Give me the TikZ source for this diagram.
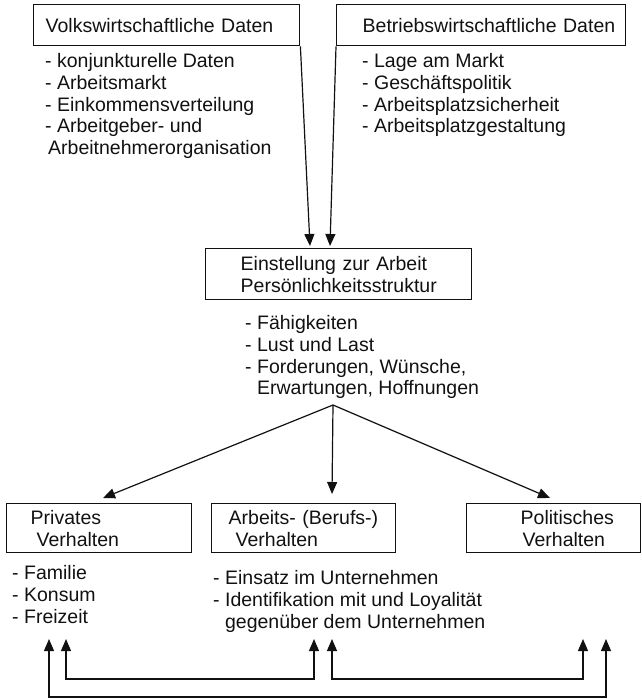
\documentclass[tikz,border=0pt]{standalone}
\usepackage{fontspec}
\setmainfont{Liberation Sans}
\usepackage{tikz}
\usetikzlibrary{arrows.meta,positioning,calc}
\definecolor{ink}{HTML}{111111}
\newcommand{\fs}{\fontsize{19.5pt}{21.7pt}\selectfont}
\tikzset{
  box/.style={draw=ink,line width=1.4pt,anchor=north west,align=left,font=\fs,text=ink,inner xsep=0pt,inner ysep=0pt},
  lpad/.style={execute at begin node={\leftskip=#1\relax}},
  items/.style={anchor=north west,align=left,font=\fs,text=ink,inner sep=0pt},
  flow/.style={-{Triangle[length=12pt,width=10pt]},line width=1.2pt,draw=ink},
  dflow/.style={{Triangle[length=12pt,width=10pt]}-{Triangle[length=12pt,width=10pt]},line width=1.2pt,draw=ink}
}
\begin{document}
\begin{tikzpicture}[x=1pt,y=-1pt]
  \useasboundingbox (0,0) rectangle (642,699);
  % Daten
  \node[box,text width=266pt,minimum height=41pt,lpad=12pt] (vw) at (33,4) {Volkswirtschaftliche Daten};
  \node[box,text width=289pt,minimum height=41pt,lpad=26pt] (bw) at (336,4) {Betriebswirtschaftliche Daten};
  \node[items,below right=7pt and 12pt of vw.south west] (vwl) {- konjunkturelle Daten\\- Arbeitsmarkt\\- Einkommensverteilung\\- Arbeitgeber- und\\\hspace*{3pt}Arbeitnehmerorganisation};
  \node[items,below right=7pt and 26pt of bw.south west] (bwl) {- Lage am Markt\\- Geschäftspolitik\\- Arbeitsplatzsicherheit\\- Arbeitsplatzgestaltung};
  % Einstellung
  \node[box,text width=266pt,minimum height=51pt,lpad=35pt] (ein) at (205,248) {Einstellung zur Arbeit\\Persönlichkeitsstruktur};
  \node[items,below right=15pt and 40pt of ein.south west] (einl) {- Fähigkeiten\\- Lust und Last\\- Forderungen, Wünsche,\\\phantom{- }Erwartungen, Hoffnungen};
  % Verhalten
  \node[box,text width=185pt,minimum height=49pt,lpad=24pt] (priv) at (6,503) {Privates\\\hspace*{6pt}Verhalten};
  \node[box,text width=184pt,minimum height=49pt,lpad=17pt] (arb) at (211,503) {Arbeits- (Berufs-)\\\hspace*{7pt}Verhalten};
  \node[box,text width=174pt,minimum height=49pt,lpad=54pt] (pol) at (466,503) {Politisches\\\hspace*{2pt}Verhalten};
  \node[items,below right=12pt and 6pt of priv.south west] (privl) {- Familie\\- Konsum\\- Freizeit};
  \node[items,below right=17pt and 2pt of arb.south west] (arbl) {- Einsatz im Unternehmen\\- Identifikation mit und Loyalität\\\phantom{- }gegenüber dem Unternehmen};
  % Pfeile
  \coordinate (vwin) at (310,246);
  \coordinate (bwin) at (330,246);
  \draw[flow] (vw.south east) -- (vwin);
  \draw[flow] (bw.south west) -- (bwin);
  \coordinate (apex) at (333,405);
  \coordinate (toPriv) at (103,498);
  \coordinate (toArb) at (332,494);
  \coordinate (toPol) at (550,498);
  \draw[flow] (apex) -- (toPriv);
  \draw[flow] (apex) -- (toArb);
  \draw[flow] (apex) -- (toPol);
  \coordinate (p1) at (49,639);
  \coordinate (p2) at (66,639);
  \coordinate (a1) at (314,639);
  \coordinate (a2) at (332,639);
  \coordinate (q1) at (583,639);
  \coordinate (q2) at (606,639);
  \draw[dflow] (p2) -- ++(0,40) -| (a1);
  \draw[dflow] (a2) -- ++(0,40) -| (q1);
  \draw[dflow] (p1) -- ++(0,58) -| (q2);
\end{tikzpicture}
\end{document}
